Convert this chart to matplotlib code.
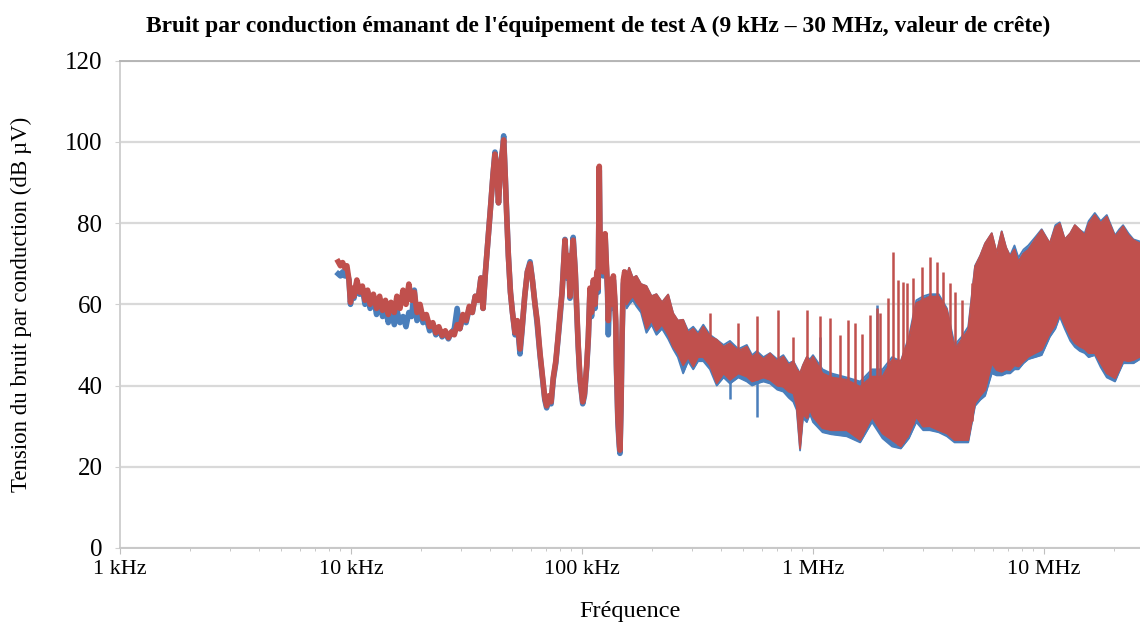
import numpy as np
import matplotlib.pyplot as plt
from matplotlib.ticker import FixedLocator, LogLocator, NullFormatter

plt.rcParams['font.family'] = ['Liberation Serif', 'DejaVu Serif']

# --- partie basse frequence : trace continue (kHz, dB µV) ---
trace_khz = [8.8, 9.0, 9.2, 9.4, 9.6, 9.8, 9.95, 10.1, 10.3, 10.6,
             10.9, 11.2, 11.5, 11.8, 12.1, 12.5, 12.9, 13.3, 13.7, 14.1,
             14.5, 14.9, 15.4, 15.8, 16.3, 16.8, 17.3, 17.8, 18.3, 18.8,
             19.3, 19.9, 20.5, 21.2, 21.9, 22.6, 23.3, 24.0, 24.8, 25.6,
             26.4, 27.2, 28.0, 28.8, 29.6, 30.5, 31.5, 32.5, 33.5, 34.5,
             35.5, 36.5, 37.3, 38.2, 39.2, 40.2, 41.2, 42.0, 42.8, 43.5,
             44.4, 45.3, 45.8, 46.5, 47.2, 48.0, 49.0, 50.0, 51.3, 52.5,
             53.9, 55.0, 56.5, 58.0, 59.6, 61.0, 62.6, 64.0, 65.8, 67.5,
             69.0, 70.3, 72.0, 73.5, 75.1, 77.0, 78.8, 80.4, 82.0, 84.4,
             86.0, 87.5, 88.7, 90.0, 91.6, 93.5, 95.0, 96.3, 98.0, 100.7,
             102.5, 104.8, 106.5, 108.3, 110.0, 112.0, 113.8, 116.0, 117.5, 118.8,
             120.0, 121.7, 123.5, 125.9, 127.5, 129.0, 130.0, 132.0, 134.0, 136.7,
             138.5, 140.0, 141.0, 143.0, 145.0, 146.0, 147.5, 149.0, 151.0, 153.0,
             155.0]

trace_red = [70.5, 69.5, 70.3, 69, 69.5, 66, 60.5, 64, 62, 66,
             63, 64.5, 61, 63.5, 60, 62.5, 59, 62, 58.5, 61,
             57.5, 60.5, 58, 62, 59, 63.5, 60, 65, 61, 63,
             58, 60, 56.5, 57.5, 54.5, 55.5, 53, 54.5, 52.3, 53.5,
             51.8, 53.2, 52.5, 55, 54, 57.5, 56, 59.5, 58, 62,
             61, 66.5, 59, 68, 76, 84, 92, 97, 93, 85,
             94, 98, 100.5, 92, 82, 72, 63, 58, 53, 56,
             49, 54, 62, 68, 70, 66, 60, 56, 48, 42,
             37, 35, 37.5, 36, 42, 46, 52, 58, 63, 75.8,
             67, 72, 62, 70, 75.8, 68, 58, 50, 42, 36,
             38, 45, 52, 64, 58, 66, 60, 68, 64, 94,
             70, 75, 68, 77.4, 70, 64, 56, 66, 60, 67,
             62, 56, 45, 32, 26, 24.1, 35, 52, 66, 68,
             64]

trace_blue = [67.5, 67, 68, 67, 68, 66, 60, 63.5, 61.5, 65.5,
              62.5, 64, 60, 63, 59, 62, 57.5, 61, 57, 59,
              55.5, 58, 55, 58.5, 55.5, 57, 54.5, 58, 57, 63.5,
              56, 58, 55.5, 56.5, 53.5, 55, 52.5, 54, 52, 53,
              51.5, 53, 54, 59, 54, 57, 55.5, 59, 58, 62,
              61, 66.5, 59, 68, 76, 84, 92, 97.5, 93, 85,
              94, 98, 101.5, 92, 82, 72, 63, 58, 52.5, 55.5,
              47.8, 53.5, 62, 68, 70.5, 66, 60, 55, 47.5, 41.5,
              36.5, 34.5, 37, 35.5, 41.5, 45.5, 51.5, 57, 63, 76,
              66.5, 72, 61.5, 70, 76.5, 68, 57.5, 49.5, 41.5, 35.5,
              37.5, 44.5, 51.5, 63.5, 57, 65.5, 59, 67.5, 63, 93,
              69, 74, 67, 77, 69, 63, 52.5, 65, 59, 66,
              61, 55, 44, 31, 25, 23.3, 34, 51, 65, 67,
              63]

# --- partie haute frequence : enveloppes min / max (kHz, dB µV) ---
band_khz = [151, 156, 160, 166, 172, 180, 190, 200, 210, 222,
            236, 248, 260, 274, 288, 303, 318, 335, 358, 383,
            410, 437, 475, 517, 545, 571, 610, 652, 700, 744,
            785, 822, 850, 879, 905, 940, 970, 1000, 1100, 1200,
            1400, 1600, 1800, 2000, 2200, 2400, 2600, 2800, 3000, 3200,
            3500, 3800, 4100, 4400, 4700, 5030, 5300, 5560, 5940, 6240,
            6560, 6850, 7130, 7450, 7750, 8150, 8550, 9150, 9770, 10600,
            11200, 11700, 12300, 13000, 13600, 14300, 15000, 15600, 16600, 17600,
            18700, 20300, 21200, 22000, 23200, 24400, 26000]

red_lo = [64, 60, 61, 62, 60.5, 59, 54, 56, 53.5, 55,
          52.5, 49.6, 48, 45, 47, 44.7, 47, 47, 45, 40.6,
          43, 41.4, 43, 42.2, 41, 41.4, 42, 41.4, 40, 39.7,
          38.5, 38.1, 35, 24.5, 33, 32, 34, 32.3, 29.5, 29,
          29, 26.6, 32.3, 28.2, 26.6, 25, 28, 32.3, 29.9, 30,
          29, 28.2, 26.6, 26.6, 26.6, 35.7, 37.5, 38.9, 45.5, 43.8,
          43.4, 44, 43.8, 45, 44.7, 46, 47.1, 48, 48.8, 52.9,
          55, 57.8, 55, 52.1, 50.5, 49.6, 49, 48, 48, 45.5,
          43, 41.8, 44, 46.3, 46, 46.3, 47.1]

red_hi = [68.3, 67, 69, 66.5, 67, 65, 64.5, 62, 62.5, 60.5,
          62.4, 57.8, 56, 56.2, 53, 54, 52.5, 54.5, 52, 51.3,
          49.5, 50.4, 48.5, 49.6, 47, 48, 46.5, 47.9, 46, 47.1,
          45, 46, 44, 43, 45, 47, 46, 47.1, 43, 42,
          41.4, 39.7, 42.2, 42.2, 46.3, 46, 51.3, 60.3, 61.1, 61.9,
          61.9, 58.6, 48.7, 51.3, 53.7, 69.3, 72, 75, 77.5, 72.6,
          77.9, 74, 71.8, 73.5, 70.5, 72.5, 73.4, 76, 78.3, 75,
          79, 79.9, 76, 77.5, 79.5, 78.3, 77, 79.9, 82, 80,
          81.6, 76.7, 78, 79.2, 77, 75.8, 75]

blue_lo = [63, 59, 60, 61, 59.5, 58, 53, 55, 52.5, 54,
           51.5, 49, 47, 43, 46, 44, 46, 46, 44, 40,
           42, 40.5, 42, 41, 40, 40.5, 41, 40.5, 39, 38.5,
           37, 36, 34, 24, 32, 31, 33, 31, 28.5, 28,
           27.5, 26, 31, 27, 25, 24.5, 27, 31, 29, 29,
           28.5, 27.5, 26, 26, 26, 35, 36.5, 37.5, 43, 42.5,
           42.5, 43, 43, 44, 44, 45.5, 46.5, 47, 47.5, 52,
           54, 57, 54, 51, 49.5, 48.5, 48, 47, 47.5, 44.5,
           42, 41, 43.5, 45.5, 45.5, 45.5, 46.5]

blue_hi = [68.3, 67, 69, 66.5, 67, 65, 64.5, 62, 62.5, 60.5,
           62.4, 57.8, 56, 56.2, 53.5, 54.5, 53, 55, 52.5, 51.3,
           50, 51, 49, 50, 47.5, 48.5, 47, 48, 46.5, 47.5,
           45.5, 46, 44.5, 43, 45, 47, 46.5, 47.5, 44, 43,
           42, 41, 44, 44, 47, 46, 52, 61, 62, 62.5,
           62.5, 59, 50, 52, 54.5, 69.5, 72, 75, 77.5, 72.6,
           78, 74, 72, 74.5, 71.5, 73.5, 74.5, 76.5, 78.5, 75,
           79.5, 80.2, 76, 77.5, 79.5, 78.3, 77.5, 80.5, 82.5, 80.5,
           82, 77, 78.5, 79.5, 77.5, 76, 75.5]

# raies etroites (harmoniques) de la mesure rouge
spike_khz = [358, 475, 571, 708, 822, 940, 1070, 1190, 1310, 1420, 1520, 1630, 1770,
             1890, 1950, 2120, 2230, 2340, 2460, 2550, 2720, 2960, 3210, 3440, 3670,
             3920, 4120, 4400, 4870]
spike_top = [57.8, 55.3, 57.1, 58.6, 52, 58.6, 57.1, 56.7, 52.5, 56.2, 55.3, 52.8, 57.4,
             59.1, 57.8, 61.5, 73, 66, 65.6, 65.2, 66.4, 69.3, 71.7, 70.5, 68,
             65.2, 63.1, 61.1, 65.2]

# creux et raies visibles seulement sur la mesure bleue
blue_dip_khz = [437, 571, 1890, 1070]
blue_dip_val = [36.8, 32.3, 59.8, 52]

tick_labels = ['1 kHz', '10 kHz', '100 kHz', '1 MHz', '10 MHz']

red = '#c0504d'
blue = '#4a7ebb'

assert len(trace_khz) == len(trace_red) == len(trace_blue)
assert len(band_khz) == len(red_lo) == len(red_hi) == len(blue_lo) == len(blue_hi)

tf = np.array(trace_khz) * 1e3
bf = np.array(band_khz) * 1e3

fig = plt.figure(figsize=(11.4, 6.24), dpi=100)
ax = fig.add_axes([120 / 1140, 1 - 548 / 624, 1020 / 1140, (548 - 60.7) / 624])

# mesure bleue (dessous)
ax.plot(tf, trace_blue, color=blue, lw=4, zorder=2)
ax.fill_between(bf, blue_lo, blue_hi, color=blue, lw=0, zorder=2)
ax.plot(bf, blue_lo, color=blue, lw=1.3, zorder=2)
ax.plot(bf, blue_hi, color=blue, lw=1.3, zorder=2)
bd = np.array(blue_dip_khz) * 1e3
bd_base = np.interp(np.log10(bd), np.log10(bf), red_lo)
ax.vlines(bd, bd_base, blue_dip_val, color=blue, lw=1.8, zorder=2)

# mesure rouge (dessus)
ax.plot(tf, trace_red, color=red, lw=4, zorder=3)
ax.fill_between(bf, red_lo, red_hi, color=red, lw=0, zorder=3)
ax.plot(bf, red_lo, color=red, lw=1.3, zorder=3)
ax.plot(bf, red_hi, color=red, lw=1.3, zorder=3)
sf = np.array(spike_khz) * 1e3
s_base = np.interp(np.log10(sf), np.log10(bf), red_lo)
ax.vlines(sf, s_base, spike_top, color=red, lw=1.8, zorder=3)

ax.set_xscale('log')
ax.set_xlim(1e3, 10 ** (3 + 1020 / 231))
ax.set_ylim(0, 120)
ax.xaxis.set_major_locator(FixedLocator([1e3, 1e4, 1e5, 1e6, 1e7]))
ax.set_xticklabels(tick_labels)
ax.xaxis.set_minor_locator(LogLocator(base=10, subs=np.arange(2, 10)))
ax.xaxis.set_minor_formatter(NullFormatter())
ax.set_yticks(range(0, 121, 20))

ax.grid(axis='y', color='#d9d9d9', lw=1.6, zorder=0)
ax.set_axisbelow(True)
ax.spines['right'].set_visible(False)
ax.spines['top'].set_color('#b5b5b5')
ax.spines['top'].set_linewidth(1.4)
ax.spines['left'].set_color('#d0d0d0')
ax.spines['left'].set_linewidth(1.4)
ax.spines['bottom'].set_color('#c8c8c8')
ax.spines['bottom'].set_linewidth(1.4)
ax.tick_params(axis='x', which='major', length=4, color='#bfbfbf', labelsize=16, pad=5)
ax.tick_params(axis='x', which='minor', length=2.5, color='#bfbfbf')
ax.tick_params(axis='y', length=3.6, color='#d0d0d0', labelsize=18, pad=9)

ax.set_xlabel('Fréquence', fontsize=17.5)
ax.xaxis.set_label_coords(0.5, -0.108)
ax.set_ylabel('Tension du bruit par conduction (dB µV)', fontsize=16.5)
ax.yaxis.set_label_coords(-0.086, 0.5)
fig.text(598 / 1140, 0.958, "Bruit par conduction émanant de l'équipement de test A (9 kHz – 30 MHz, valeur de crête)",
         ha='center', va='center', fontsize=16.9, fontweight='bold')

fig.savefig('out.png', dpi=100)
